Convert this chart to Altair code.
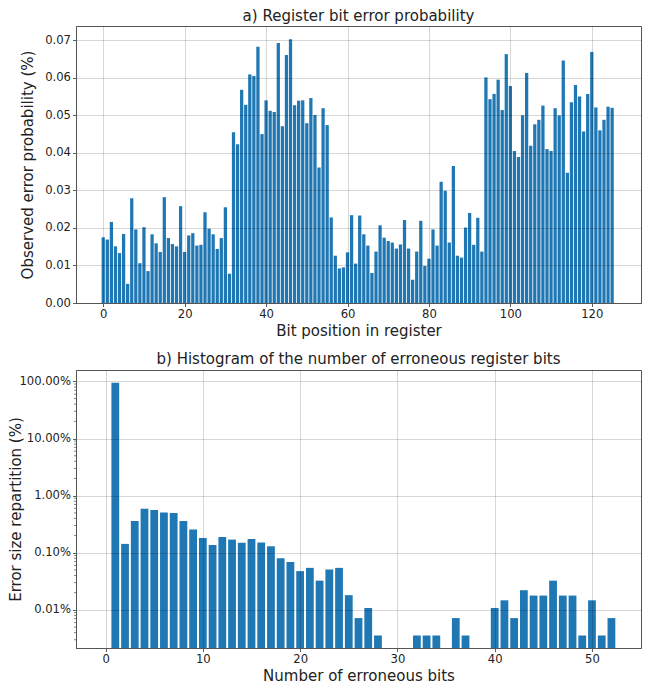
import altair as alt
import pandas as pd

# ---------------- data ----------------
bits = list(range(126))
bit_error = [
    0.0175, 0.0169, 0.0216, 0.0151, 0.0133, 0.0184, 0.0051, 0.0279, 0.0196, 0.0106,
    0.0202, 0.0085, 0.0183, 0.0159, 0.0136, 0.0282, 0.0173, 0.0157, 0.0151, 0.0258,
    0.0136, 0.0180, 0.0186, 0.0153, 0.0155, 0.0242, 0.0198, 0.0183, 0.0144, 0.0173,
    0.0255, 0.0078, 0.0455, 0.0423, 0.0568, 0.0528, 0.0609, 0.0605, 0.0683, 0.0450,
    0.0540, 0.0512, 0.0509, 0.0693, 0.0471, 0.0661, 0.0703, 0.0527, 0.0539, 0.0540,
    0.0479, 0.0546, 0.0501, 0.0361, 0.0519, 0.0474, 0.0228, 0.0126, 0.0092, 0.0095,
    0.0135, 0.0234, 0.0105, 0.0233, 0.0183, 0.0153, 0.0080, 0.0137, 0.0207, 0.0174,
    0.0165, 0.0161, 0.0145, 0.0156, 0.0221, 0.0145, 0.0062, 0.0137, 0.0219, 0.0099,
    0.0118, 0.0196, 0.0153, 0.0323, 0.0299, 0.0161, 0.0365, 0.0126, 0.0121, 0.0201,
    0.0240, 0.0155, 0.0227, 0.0137, 0.0601, 0.0543, 0.0557, 0.0595, 0.0514, 0.0663,
    0.0578, 0.0405, 0.0389, 0.0500, 0.0613, 0.0419, 0.0476, 0.0488, 0.0526, 0.0410,
    0.0405, 0.0519, 0.0500, 0.0646, 0.0347, 0.0535, 0.0581, 0.0550, 0.0457, 0.0557,
    0.0669, 0.0521, 0.0460, 0.0488, 0.0523, 0.0520,
]

sizes = list(range(53))
size_frac = [
    0.0, 0.948, 0.00143, 0.00361, 0.00589, 0.00559, 0.00509, 0.00496, 0.00361, 0.00256,
    0.00181, 0.00137, 0.00189, 0.00170, 0.00149, 0.00174, 0.00151, 0.00130, 0.000798, 0.000690,
    0.000477, 0.000544, 0.000325, 0.000509, 0.000544, 0.000181, 0.0000718, 0.000108, 0.0000356, 0.0,
    0.0, 0.0, 0.0000356, 0.0000356, 0.0000356, 0.0, 0.0000718, 0.0000356, 0.0, 0.0,
    0.000108, 0.000147, 0.0000718, 0.000221, 0.000178, 0.000178, 0.000325, 0.000178, 0.000178, 0.0000356,
    0.000147, 0.0000356, 0.0000718,
]

top_xticks = [0, 20, 40, 60, 80, 100, 120]
top_yticks = [0.0, 0.01, 0.02, 0.03, 0.04, 0.05, 0.06, 0.07]
bot_xticks = [0, 10, 20, 30, 40, 50]
bot_yticks = [0.0001, 0.001, 0.01, 0.1, 1.0]

YMIN, YMAX = 2.15e-5, 1.585
minor_vals = [m * 10.0 ** e for e in range(-5, 1) for m in range(2, 10)]
minor_vals = [v for v in minor_vals if YMIN < v < YMAX]

top_df = pd.DataFrame({"bit": bits, "p": bit_error})
bot_df = pd.DataFrame({"n": sizes, "f": size_frac})
bot_df = bot_df[bot_df["f"] > 0]
minor_df = pd.DataFrame({"f": minor_vals})

# ---------------- style ----------------
FONT = "DejaVu Sans"
BLUE = "#1f77b4"
W = 565
H_TOP = 277
H_BOT = 278

axis_style = dict(
    grid=True, gridColor="#000000", gridOpacity=0.2, gridWidth=0.8,
    domainColor="#555555", domainWidth=1, tickColor="#333333", tickSize=3.5,
    tickWidth=0.8, labelFontSize=11.6, labelColor="#222222", labelFont=FONT,
    titleFontSize=15, titleColor="#222222", titleFont=FONT,
    titleFontWeight="normal", labelPadding=2, zindex=1,
)

# ---------------- top chart ----------------
top = (
    alt.Chart(top_df)
    .transform_calculate(x0="datum.bit - 0.4", x1="datum.bit + 0.4")
    .mark_bar(color=BLUE)
    .encode(
        x=alt.X("x0:Q",
                scale=alt.Scale(domain=[-6.69, 132.09], nice=False, zero=False),
                axis=alt.Axis(values=top_xticks, format="d",
                              title="Bit position in register", titlePadding=3,
                              **axis_style)),
        x2="x1:Q",
        y=alt.Y("p:Q",
                scale=alt.Scale(domain=[0, 0.0738], nice=False),
                axis=alt.Axis(values=top_yticks, format=".2f",
                              title="Observed error probability (%)",
                              titlePadding=9, **axis_style)),
        y2=alt.datum(0),
    )
    .properties(
        width=W, height=H_TOP,
        title=alt.TitleParams("a) Register bit error probability", fontSize=15,
                              fontWeight="normal", font=FONT, color="#222222",
                              offset=2),
    )
)

# ---------------- bottom chart ----------------
yscale = alt.Scale(type="log", domain=[YMIN, YMAX], nice=False)
xscale_b = alt.Scale(domain=[-3.04, 55.04], nice=False, zero=False)

bars = (
    alt.Chart(bot_df)
    .transform_calculate(x0="datum.n - 0.4", x1="datum.n + 0.4")
    .mark_bar(color=BLUE)
    .encode(
        x=alt.X("x0:Q", scale=xscale_b,
                axis=alt.Axis(values=bot_xticks, format="d",
                              title="Number of erroneous bits", titlePadding=3,
                              **axis_style)),
        x2="x1:Q",
        y=alt.Y("f:Q", scale=yscale,
                axis=alt.Axis(values=bot_yticks, format=".2%",
                              title="Error size repartition (%)",
                              titlePadding=-5, **axis_style)),
        y2=alt.datum(YMIN),
    )
)

minor_ticks = (
    alt.Chart(minor_df)
    .mark_rule(color="#333333", strokeWidth=0.6)
    .encode(
        y=alt.Y("f:Q", scale=yscale),
        x=alt.value(0),
        x2=alt.value(-2),
    )
)

bottom = alt.layer(bars, minor_ticks).properties(
    width=W, height=H_BOT,
    title=alt.TitleParams("b) Histogram of the number of erroneous register bits",
                          fontSize=15, fontWeight="normal", font=FONT,
                          color="#222222", offset=3),
)

chart = (
    alt.vconcat(top, bottom, spacing=12)
    .properties(padding=0)
    .configure_view(stroke="#555555", strokeWidth=1)
)

chart.save("out.html", embed_options={"renderer": "svg", "actions": False})
